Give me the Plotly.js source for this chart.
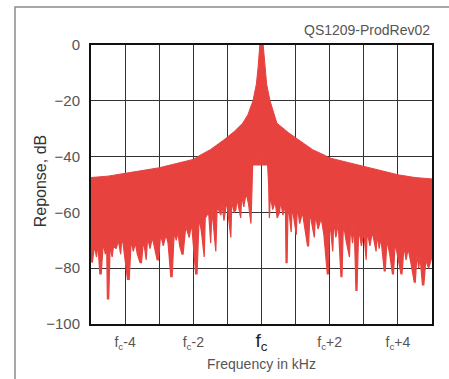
<!DOCTYPE html>
<html>
<head>
<meta charset="utf-8">
<script src="https://cdn.plot.ly/plotly-3.0.1.min.js"></script>
<style>html,body{margin:0;padding:0;background:#fff;}#chart{width:449px;height:379px;}</style>
</head>
<body>
<div id="chart"></div>
<script>
// Upper envelope of the response (kHz offset from fc, dB)
const upX = [-5,-4.5,-4,-3.5,-3,-2.5,-2,-1.8,-1.5,-1.1,-0.8,-0.55,-0.4,-0.25,-0.15,-0.1,-0.05,0.05,0.1,0.15,0.25,0.45,0.8,1.1,1.5,1.85,2,2.5,3,3.5,4,4.5,5];
const upY = [-47.5,-47,-46,-45,-44,-42.5,-41,-39.5,-37.5,-34,-31,-28,-25,-20,-14,-8,0,0,-8,-14,-20,-28,-31.5,-34,-37.5,-39.5,-40.5,-42,-43.5,-45,-46.5,-47.5,-48];

// Lower edge of the response including the downward spikes (kHz, dB)
const lowX = [-5.00,-4.96,-4.90,-4.84,-4.80,-4.74,-4.70,-4.64,-4.58,-4.54,-4.52,-4.48,-4.44,-4.38,-4.34,-4.26,-4.20,-4.13,-4.10,-4.06,-3.93,-3.88,-3.82,-3.76,-3.70,-3.64,-3.56,-3.52,-3.46,-3.38,-3.34,-3.27,-3.20,-3.06,-3.02,-2.96,-2.88,-2.80,-2.74,-2.66,-2.62,-2.56,-2.50,-2.45,-2.40,-2.33,-2.30,-2.22,-2.12,-2.05,-1.93,-1.89,-1.83,-1.76,-1.68,-1.65,-1.55,-1.49,-1.45,-1.34,-1.30,-1.19,-1.16,-1.10,-1.02,-0.96,-0.90,-0.87,-0.80,-0.75,-0.72,-0.61,-0.58,-0.52,-0.45,-0.38,-0.31,-0.28,-0.26,-0.02,0.00,0.02,0.18,0.21,0.23,0.26,0.33,0.40,0.46,0.53,0.56,0.63,0.70,0.72,0.75,0.78,0.87,0.90,0.96,1.02,1.05,1.12,1.20,1.27,1.35,1.38,1.42,1.49,1.55,1.58,1.66,1.75,1.83,1.93,1.96,2.00,2.09,2.12,2.18,2.25,2.33,2.36,2.40,2.48,2.58,2.61,2.67,2.72,2.77,2.80,2.85,2.93,3.00,3.07,3.10,3.18,3.25,3.36,3.39,3.45,3.50,3.60,3.63,3.68,3.76,3.84,3.87,3.92,4.00,4.09,4.12,4.18,4.24,4.30,4.38,4.48,4.51,4.56,4.61,4.65,4.72,4.76,4.82,4.90,5.00];
const lowY = [-77,-78,-72,-76,-71,-82,-82,-71,-75,-72,-91,-91,-72,-76,-72,-73,-70,-75,-70,-71,-84,-84,-70,-74,-71,-75,-78,-78,-70,-77,-69,-73,-69,-77,-77,-68,-72,-68,-71,-83,-83,-67,-70,-67,-72,-75,-75,-65,-69,-64,-82,-82,-62,-67,-76,-62,-60,-71,-59,-74,-58,-61,-57,-63,-56,-62,-69,-56,-60,-59,-55,-62,-54,-58,-53,-57,-64,-52,-43,-43,-24,-43,-43,-50,-62,-54,-59,-56,-62,-60,-56,-61,-57,-78,-78,-57,-67,-58,-63,-68,-58,-64,-60,-66,-72,-72,-60,-65,-69,-61,-66,-62,-68,-82,-82,-63,-74,-63,-69,-64,-83,-83,-64,-70,-76,-65,-71,-65,-88,-88,-66,-72,-67,-77,-67,-72,-67,-74,-68,-73,-69,-81,-81,-70,-75,-82,-82,-71,-76,-82,-82,-72,-77,-73,-78,-85,-85,-75,-80,-76,-86,-86,-77,-80,-76];

const tickVals = [-4,-3,-2,-1,0,1,2,3,4];
const tickText = ['f<sub>c</sub>-4','','f<sub>c</sub>-2','','<span style="font-size:19px;color:#222">f<sub>c</sub></span>','','f<sub>c</sub>+2','','f<sub>c</sub>+4'];
const yVals = [0,-20,-40,-60,-80,-100];
const yText = ['0','\u221220','\u221240','\u221260','\u221280','\u2212100'];

const red = '#e8423f';
const data = [
  {x: upX, y: upY, type: 'scatter', mode: 'lines', line: {color: red, width: 1}, hoverinfo: 'skip'},
  {x: lowX, y: lowY, type: 'scatter', mode: 'lines', line: {color: red, width: 1.2}, fill: 'tonexty', fillcolor: red, hoverinfo: 'skip'}
];

const layout = {
  width: 449, height: 379,
  margin: {l: 91, r: 17, t: 45, b: 55},
  paper_bgcolor: '#ffffff', plot_bgcolor: '#ffffff',
  showlegend: false,
  font: {family: 'Liberation Sans, Arial, sans-serif', color: '#555'},
  xaxis: {
    range: [-5, 5], tickvals: tickVals, ticktext: tickText, ticks: '',
    showgrid: true, gridcolor: '#333', gridwidth: 1, zeroline: false,
    showline: true, linecolor: '#111', linewidth: 2, mirror: true,
    tickfont: {size: 14, color: '#555'}, ticklabelstandoff: 4,
    title: {text: 'Frequency in kHz', font: {size: 14, color: '#555'}, standoff: 6}
  },
  yaxis: {
    range: [-100, 0], tickvals: yVals, ticktext: yText, ticks: '',
    showgrid: true, gridcolor: '#333', gridwidth: 1, zeroline: false,
    showline: true, linecolor: '#111', linewidth: 2, mirror: true,
    tickfont: {size: 15, color: '#555'}, ticklabelstandoff: 6
  },
  annotations: [
    {text: 'QS1209-ProdRev02', xref: 'paper', yref: 'paper', x: 1, y: 1, xanchor: 'right', yanchor: 'bottom',
     yshift: 5, showarrow: false, font: {size: 14, color: '#555'}},
    {text: 'Reponse, dB', xref: 'paper', yref: 'paper', x: -0.1496, y: 0.515, xanchor: 'center', yanchor: 'middle',
     textangle: -90, showarrow: false, font: {size: 16, color: '#333'}}
  ],
  shapes: [
    {type: 'rect', xref: 'paper', yref: 'paper', x0: -0.2229, x1: 1.3, y0: -0.5, y1: 1.1362,
     line: {color: '#8a8a8a', width: 1.5}, layer: 'below'}
  ]
};

Plotly.newPlot('chart', data, layout, {staticPlot: true, displayModeBar: false});
</script>
</body>
</html>
